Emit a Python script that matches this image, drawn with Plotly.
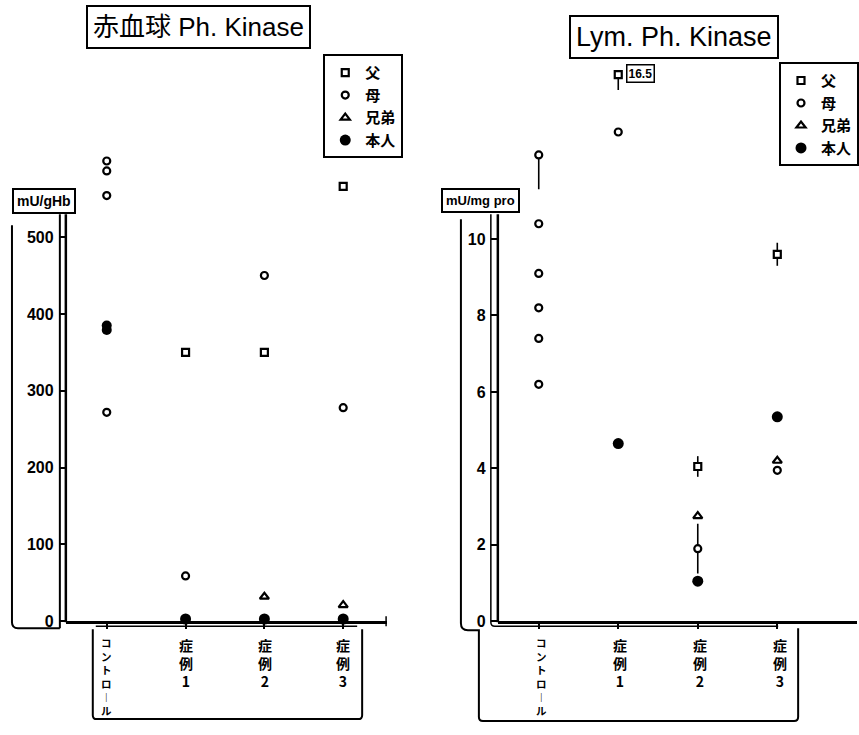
import plotly.graph_objects as go

# ---------------- data ----------------
categories = ["コントロール", "症例1", "症例2", "症例3"]
cat_idx = [0, 1, 2, 3]

# 赤血球 Ph. Kinase (mU/gHb)
rbc_control_open = [599, 586, 554, 272]
rbc_control_filled = [379, 385]
rbc_father = [None, 350, 350, 566]
rbc_mother = [None, 59, 450, 278]
rbc_sibling = [None, None, 32, 21]
rbc_patient = [None, 3, 3, 3]

# Lym. Ph. Kinase (mU/mg pro)
lym_control_open = [12.2, 10.4, 9.1, 8.2, 7.4, 6.2]
lym_control_err_minus = [0.9, 0, 0, 0, 0, 0]
lym_father = [None, 16.5, 4.05, 9.6]
lym_father_err_plus = [0, 0, 0.27, 0.3]
lym_father_err_minus = [0, 0.4, 0.27, 0.3]
lym_mother = [None, 12.8, 1.9, 3.95]
lym_mother_err = [0, 0, 0.65, 0]
lym_sibling = [None, None, 2.75, 4.2]
lym_patient = [None, 4.65, 1.05, 5.35]
LYM_BREAK = 14.3  # off-scale values are drawn at the axis break

rbc_ticks = [0, 100, 200, 300, 400, 500]
lym_ticks = [0, 2, 4, 6, 8, 10]
legend_names = ["父", "母", "兄弟", "本人"]

# ---------------- layout helpers (pixel -> paper) ----------------
W, H = 859, 735
def fx(p):
    return p / W
def fy(p):
    return 1 - p / H

FONT = "Noto Sans CJK JP"
LAT = "Liberation Sans, Noto Sans CJK JP"
BLK = "black"

# left panel geometry
L_X0, L_X1, L_C0, L_DX = 66, 388, 107, 79.0
L_Y0, L_YTOP, L_PPU = 629, 90, 0.778
# right panel geometry
R_X0, R_X1, R_C0, R_DX = 499, 859, 540, 79.7
R_Y0, R_YTOP, R_PPU = 629, 50, 38.7
AXIS_TOP = 217

fig = go.Figure()

open_mk = dict(color="white", line=dict(color=BLK, width=2.2))

def add_panel(xa, ya, leg, ctrl_open, ctrl_err, father, f_plus, f_minus,
              mother, m_err, sibling, patient, extra_ctrl_filled=None, clip=None):
    xs_ctrl = [0] * len(ctrl_open)
    fig.add_trace(go.Scatter(
        x=xs_ctrl, y=ctrl_open, mode="markers", xaxis=xa, yaxis=ya,
        marker=dict(symbol="circle", size=7, **open_mk), showlegend=False,
        cliponaxis=False, name=categories[0],
        error_y=dict(type="data", symmetric=False, array=[0] * len(ctrl_open),
                     arrayminus=ctrl_err if ctrl_err else [0] * len(ctrl_open),
                     color=BLK, thickness=1.6, width=0)))
    if extra_ctrl_filled:
        fig.add_trace(go.Scatter(
            x=[0] * len(extra_ctrl_filled), y=extra_ctrl_filled, mode="markers",
            xaxis=xa, yaxis=ya, marker=dict(symbol="circle", size=10, color=BLK),
            showlegend=False, cliponaxis=False, name=categories[0]))
    fy_vals = [None if v is None else (min(v, clip) if clip else v) for v in father]
    fig.add_trace(go.Scatter(
        x=cat_idx, y=fy_vals, mode="markers", xaxis=xa, yaxis=ya, name=legend_names[0],
        legend=leg, cliponaxis=False,
        marker=dict(symbol="square", size=7, **open_mk),
        error_y=dict(type="data", symmetric=False, array=f_plus, arrayminus=f_minus,
                     color=BLK, thickness=1.6, width=0) if f_plus else None))
    fig.add_trace(go.Scatter(
        x=cat_idx, y=mother, mode="markers", xaxis=xa, yaxis=ya, name=legend_names[1],
        legend=leg, cliponaxis=False,
        marker=dict(symbol="circle", size=7, **open_mk),
        error_y=dict(type="data", array=m_err, color=BLK, thickness=1.6, width=0) if m_err else None))
    fig.add_trace(go.Scatter(
        x=cat_idx, y=sibling, mode="markers", xaxis=xa, yaxis=ya, name=legend_names[2],
        legend=leg, cliponaxis=False,
        marker=dict(symbol="triangle-up", size=8, **open_mk)))
    fig.add_trace(go.Scatter(
        x=cat_idx, y=patient, mode="markers", xaxis=xa, yaxis=ya, name=legend_names[3],
        legend=leg, cliponaxis=False,
        marker=dict(symbol="circle", size=11, color=BLK)))

add_panel("x", "y", "legend", rbc_control_open, None, rbc_father, None, None,
          rbc_mother, None, rbc_sibling, rbc_patient, extra_ctrl_filled=rbc_control_filled)
add_panel("x2", "y2", "legend2", lym_control_open, lym_control_err_minus, lym_father,
          lym_father_err_plus, lym_father_err_minus, lym_mother, lym_mother_err,
          lym_sibling, lym_patient, clip=LYM_BREAK)

tickfont = dict(family=LAT, size=16, color=BLK, weight="bold")
common_x = dict(showgrid=False, zeroline=False, showline=True, linecolor=BLK, linewidth=2.5,
                ticks="outside", ticklen=5, tickwidth=1.5, tickcolor=BLK,
                tickvals=cat_idx, showticklabels=False, fixedrange=True)
common_y = dict(showgrid=False, zeroline=False, showline=False,
                ticks="outside", ticklen=6, tickwidth=1.5, tickcolor=BLK,
                tickfont=tickfont, ticklabelstandoff=2, fixedrange=True)

fig.update_layout(
    width=W, height=H, autosize=False, margin=dict(l=0, r=0, t=0, b=0),
    paper_bgcolor="white", plot_bgcolor="rgba(0,0,0,0)",
    font=dict(family=FONT, color=BLK),
    xaxis=dict(domain=[fx(L_X0), fx(L_X1)],
               range=[(L_X0 - L_C0) / L_DX, (L_X1 - L_C0) / L_DX], **common_x),
    yaxis=dict(domain=[fy(L_Y0), fy(L_YTOP)], range=[0, (L_Y0 - L_YTOP) / L_PPU],
               tickvals=rbc_ticks, anchor="x", **common_y),
    xaxis2=dict(domain=[fx(R_X0), fx(R_X1)],
                range=[(R_X0 - R_C0) / R_DX, (R_X1 - R_C0) / R_DX], anchor="y2", **common_x),
    yaxis2=dict(domain=[fy(R_Y0), fy(R_YTOP)], range=[0, (R_Y0 - R_YTOP) / R_PPU],
                tickvals=lym_ticks, anchor="x2", **common_y),
    legend=dict(x=fx(324), y=fy(55), xanchor="left", yanchor="top",
                bordercolor=BLK, borderwidth=2, bgcolor="white",
                font=dict(family=FONT, size=15, color=BLK, weight="bold"),
                itemwidth=30, tracegroupgap=2),
    legend2=dict(x=fx(781), y=fy(63), xanchor="left", yanchor="top",
                 bordercolor=BLK, borderwidth=2, bgcolor="white",
                 font=dict(family=FONT, size=15, color=BLK, weight="bold"),
                 itemwidth=30, tracegroupgap=2),
    showlegend=True,
)

# ---------------- text ----------------
ann = []
def box_text(txt, cx, cy, size, weight="normal", pad=4, bw=2, fam=LAT):
    ann.append(dict(text=txt, x=fx(cx), y=fy(cy), xref="paper", yref="paper",
                    showarrow=False, xanchor="center", yanchor="middle",
                    font=dict(family=fam, size=size, color=BLK, weight=weight),
                    bordercolor=BLK, borderwidth=bw, borderpad=pad, bgcolor="white"))

box_text("赤血球 Ph. Kinase", 199, 27, 26, pad=5)
box_text("Lym. Ph. Kinase", 676, 37, 27, pad=5)
box_text("mU/gHb", 44, 203, 14, weight="bold", pad=3)
box_text("mU/mg pro", 482, 203, 13, weight="bold", pad=3)
box_text("16.5", 642, 74, 12, weight="bold", pad=1, bw=1.5)

def vert(s):
    return "<br>".join("︱" if ch == "ー" else ch for ch in s)

for xa, pos in (("x", [0, 1.01, 2.01, 3.0]), ("x2", [0.04, 1.02, 2.03, 3.03])):
    for i, c in enumerate(categories):
        ann.append(dict(text=vert(c), x=pos[i], y=fy(641), xref=xa, yref="paper",
                        showarrow=False, xanchor="center", yanchor="top",
                        font=dict(family=FONT, size=10.5 if i == 0 else 14,
                                  color=BLK, weight="bold")))
fig.update_layout(annotations=ann)

# ---------------- frame shapes ----------------
def P(pts):
    out = []
    for cmd, *xy in pts:
        coords = " ".join(f"{fx(xy[k]):.5f},{fy(xy[k+1]):.5f}" for k in range(0, len(xy), 2))
        out.append(f"{cmd} {coords}")
    return " ".join(out)

shapes = []
def path(pts, w=2):
    shapes.append(dict(type="path", xref="paper", yref="paper", path=P(pts),
                       line=dict(color=BLK, width=w), layer="below"))

# left panel frames
path([("M", 12, 228), ("L", 12, 630), ("Q", 12, 636, 18, 636), ("L", 60, 636)])
path([("M", 60, AXIS_TOP), ("L", 60, 636)])
path([("M", L_X0, AXIS_TOP), ("L", L_X0, L_Y0 + 1)], w=2.5)
path([("M", 96, 634), ("L", 358, 634)], w=1.5)
path([("M", 93, 637), ("L", 93, 724), ("Q", 93, 728, 97, 728), ("L", 359, 728),
      ("Q", 363, 728, 363, 724), ("L", 363, 637)])
path([("M", 387, 624), ("L", 387, 634)], w=1.5)
# right panel frames
path([("M", 462, 222), ("L", 462, 631), ("Q", 462, 638, 469, 638), ("L", 480, 638),
      ("L", 480, 726), ("Q", 480, 730, 484, 730), ("L", 796, 730), ("Q", 800, 730, 800, 726),
      ("L", 800, 636)])
path([("M", 492, AXIS_TOP), ("L", 492, 630), ("Q", 492, 634, 496, 634), ("L", 780, 634)], w=1.5)
path([("M", R_X0, AXIS_TOP), ("L", R_X0, R_Y0 + 1)], w=2.5)
fig.update_layout(shapes=shapes)

fig.write_html("out.html", config={"displayModeBar": False},
               post_script="document.body.style.margin='0';")
